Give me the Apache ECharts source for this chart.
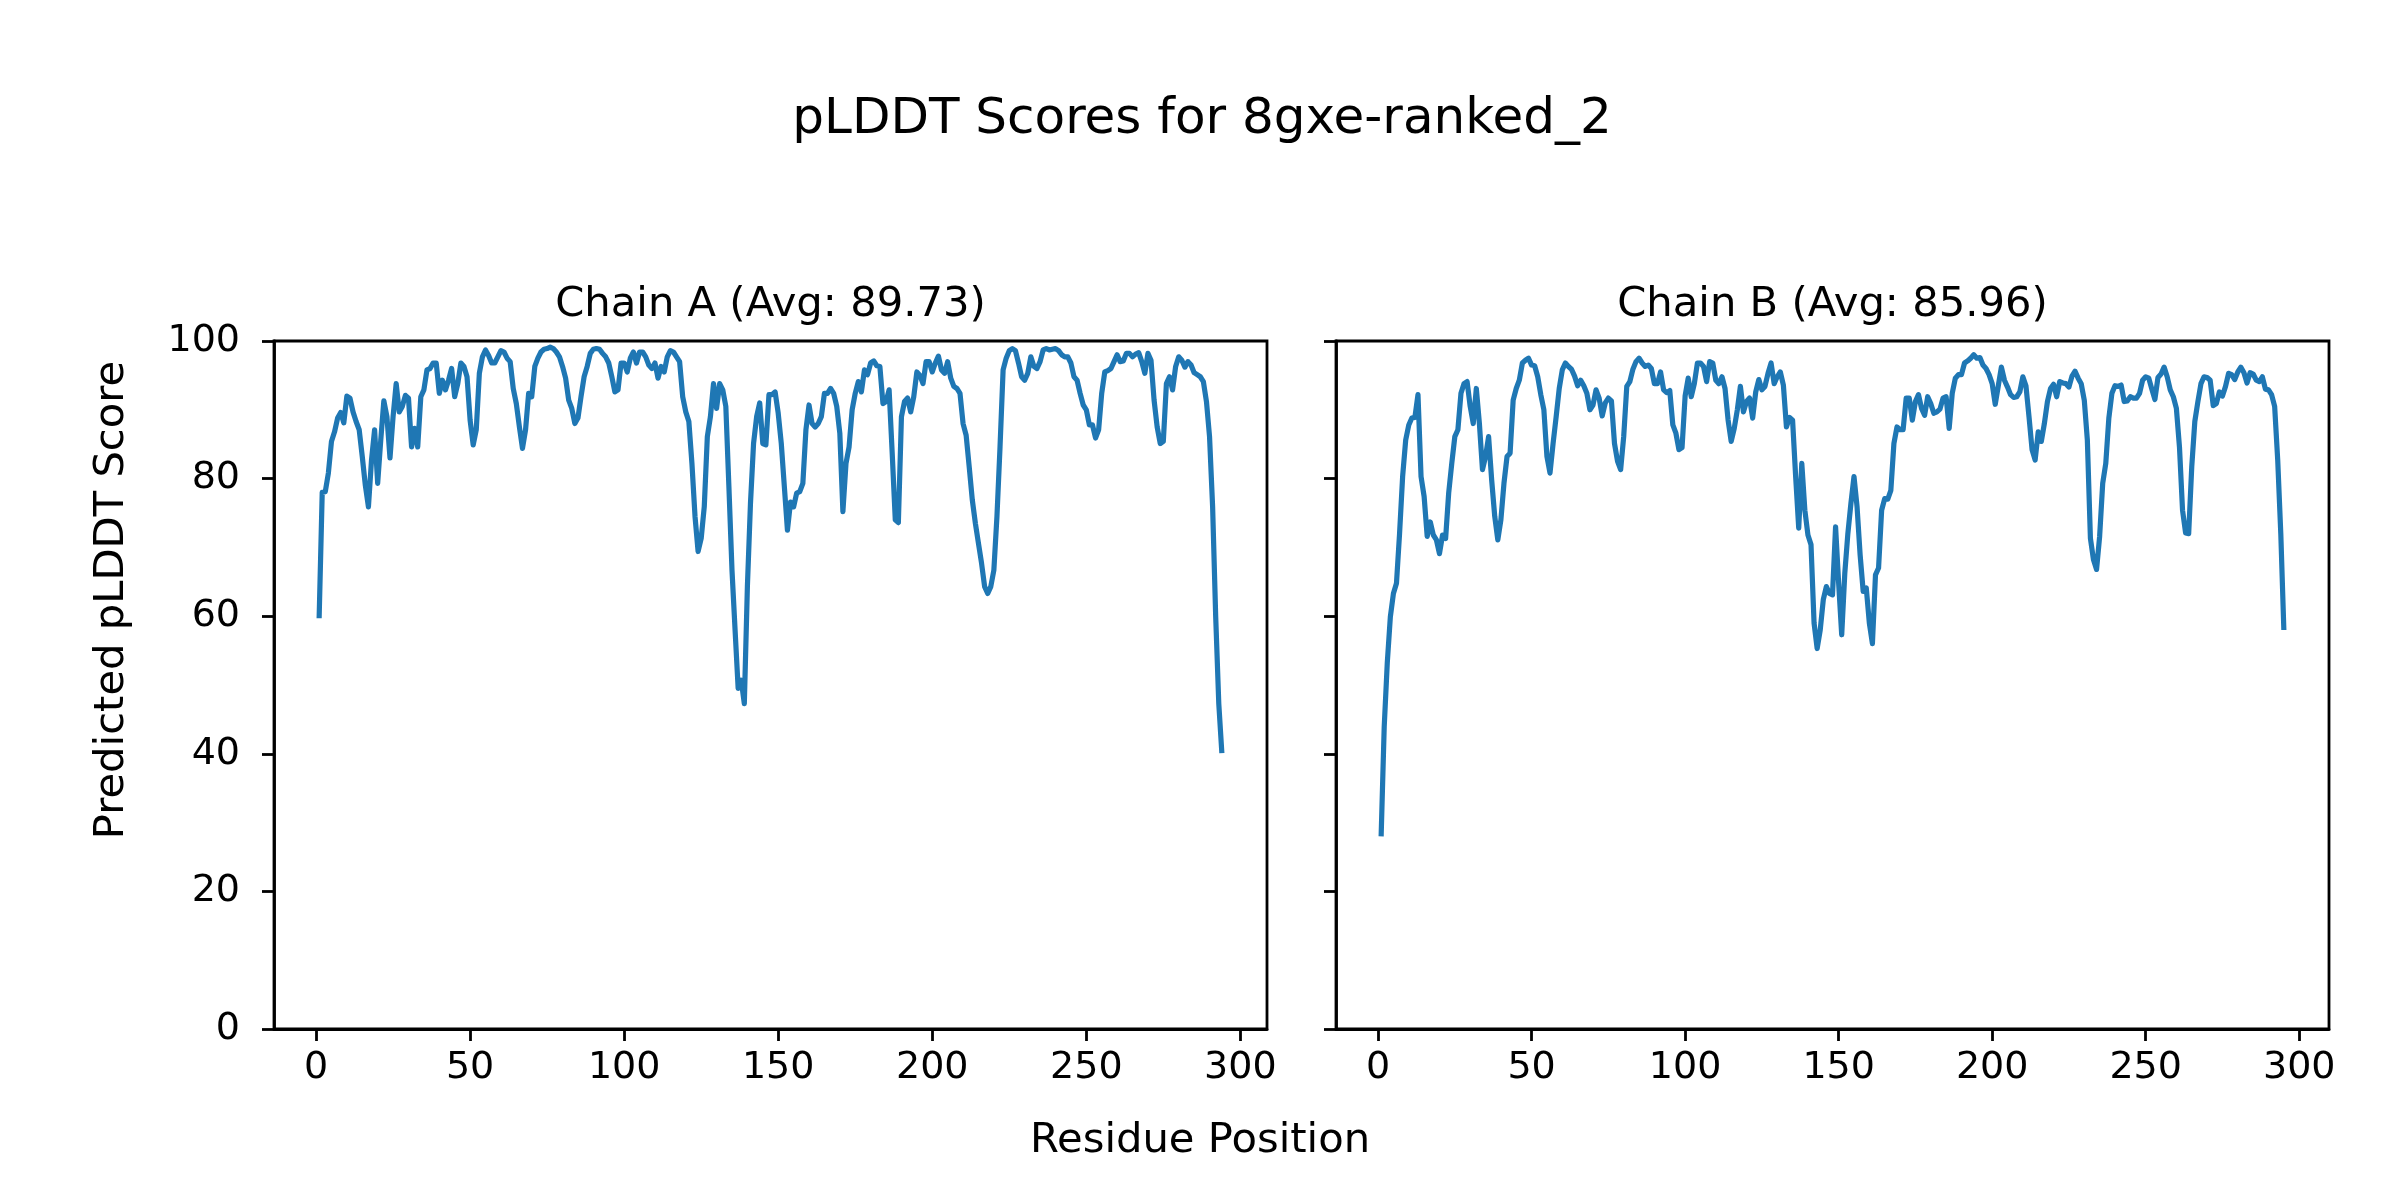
<!DOCTYPE html>
<html><head><meta charset="utf-8">
<script src="https://cdn.jsdelivr.net/npm/echarts@6/dist/echarts.min.js"></script>
<style>html,body{margin:0;padding:0;background:#fff}#c{width:2400px;height:1200px}</style>
</head><body><div id="c"></div>
<script>
const figTitle = 'pLDDT Scores for 8gxe-ranked_2';
const chainTitles = ['Chain A (Avg: 89.73)', 'Chain B (Avg: 85.96)'];
const xLabel = 'Residue Position';
const yLabel = 'Predicted pLDDT Score';
const xTicks = [0, 50, 100, 150, 200, 250, 300];

const chainA = [
59.7,78.0,78.1,80.8,85.4,86.8,88.8,89.6,88.1,92.0,
91.7,89.7,88.3,87.1,83.2,79.0,75.9,82.7,87.1,79.3,
85.6,91.3,89.0,83.0,89.0,93.8,89.7,90.5,92.1,91.7,
84.6,87.3,84.6,91.9,92.9,95.8,96.0,96.8,96.8,92.4,
94.3,92.9,94.3,96.0,91.9,93.8,96.8,96.3,94.8,88.5,
84.9,87.1,95.3,97.7,98.7,97.9,96.8,96.8,97.7,98.6,
98.4,97.5,97.0,93.1,90.9,87.5,84.4,87.1,92.4,91.9,
96.3,97.5,98.4,98.8,98.9,99.1,98.9,98.4,97.7,96.3,
94.6,91.4,90.2,88.0,88.8,91.9,94.8,96.3,98.2,98.8,
98.9,98.8,98.2,97.7,96.8,94.8,92.6,92.9,96.8,96.8,
95.5,97.5,98.4,96.8,98.4,98.4,97.7,96.5,96.0,96.8,
94.6,96.3,95.5,97.7,98.6,98.4,97.7,97.0,91.9,89.7,
88.3,82.2,74.5,69.4,71.3,75.9,86.1,89.0,93.8,90.2,
93.8,92.9,90.5,78.8,66.7,58.0,49.5,50.7,47.3,64.3,
76.4,85.1,89.0,91.0,85.1,84.9,92.2,92.2,92.6,89.5,
85.1,78.8,72.5,76.6,75.9,77.9,78.1,79.3,87.1,90.7,
88.0,87.5,88.0,89.0,92.4,92.4,93.1,92.4,90.5,86.6,
75.2,82.2,84.6,90.0,92.4,94.1,92.6,95.8,95.1,96.8,
97.1,96.4,96.3,90.9,91.2,92.9,83.7,74.0,73.6,89.0,
91.2,91.7,89.7,91.9,95.5,95.0,93.8,97.0,97.0,95.5,
96.8,97.8,95.8,95.3,97.0,94.6,93.4,93.1,92.4,88.0,
86.3,81.7,76.9,73.5,70.6,67.7,64.3,63.3,64.3,66.7,
74.5,84.6,95.8,97.5,98.6,98.9,98.6,96.8,94.8,94.3,
95.3,97.7,96.3,96.0,97.0,98.7,98.9,98.7,98.8,98.9,
98.6,98.0,97.7,97.7,96.8,94.8,94.3,92.4,90.7,90.0,
87.8,87.8,85.9,87.1,92.4,95.5,95.7,96.0,97.0,98.0,
97.0,97.1,98.2,98.2,97.7,98.1,98.3,97.0,95.3,98.2,
97.2,91.4,87.5,85.1,85.4,93.8,94.8,92.9,96.3,97.7,
97.2,96.2,97.0,96.5,95.4,95.1,94.8,94.1,91.2,86.1,
75.9,59.9,47.3,40.1
];

const chainB = [
28.0,43.9,53.2,59.9,63.3,64.8,72.0,80.3,85.6,87.8,
88.8,88.9,92.2,80.3,77.4,71.6,73.7,71.8,71.1,69.1,
71.8,71.3,77.9,82.2,86.1,87.1,92.4,93.8,94.1,90.5,
88.0,93.1,88.0,81.3,83.2,86.1,79.8,74.5,71.1,74.0,
79.3,83.2,83.7,91.4,93.1,94.3,96.8,97.2,97.5,96.5,
96.4,94.8,92.2,90.0,83.2,80.8,85.1,89.0,93.1,95.8,
96.8,96.3,95.9,94.9,93.5,94.3,93.5,92.4,90.0,90.7,
92.9,91.7,89.1,91.0,91.7,91.3,85.1,82.5,81.3,86.1,
93.4,94.1,95.9,97.0,97.5,96.8,96.3,96.5,96.0,93.8,
93.8,95.5,92.9,92.5,92.8,87.8,86.6,84.2,84.5,92.0,
94.6,91.9,93.8,96.8,96.8,96.3,94.1,97.0,96.8,94.3,
93.8,94.8,93.1,88.5,85.4,87.3,90.0,93.4,89.7,91.2,
91.7,88.8,92.6,94.4,92.9,93.4,95.3,96.8,93.8,94.8,
95.5,93.6,87.5,88.9,88.5,80.3,72.8,82.2,75.4,71.8,
70.4,59.0,55.3,58.0,62.4,64.3,63.3,63.1,73.0,64.8,
57.3,66.2,72.0,76.4,80.3,75.9,68.9,63.6,64.1,59.0,
56.0,66.0,67.0,75.4,77.1,77.0,78.3,85.1,87.5,87.1,
87.1,91.7,91.7,88.5,91.2,92.2,90.2,89.2,91.9,90.9,
89.5,89.7,90.1,91.7,91.9,87.3,92.4,94.6,95.1,95.1,
96.8,97.1,97.5,98.0,97.5,97.6,96.5,96.0,95.1,93.8,
90.8,93.5,96.2,94.3,93.3,92.2,91.8,91.9,92.6,94.8,
93.5,89.0,84.2,82.7,86.8,85.4,88.0,91.2,93.1,93.7,
91.9,94.1,93.9,93.8,93.3,94.9,95.6,94.6,93.8,91.4,
85.6,71.3,68.2,66.8,71.6,79.3,82.2,88.8,92.4,93.5,
93.4,93.6,91.2,91.3,91.9,91.7,91.7,92.4,94.3,94.8,
94.6,93.0,91.5,94.7,95.2,96.2,94.8,92.9,91.9,90.2,
84.6,75.4,72.1,72.0,81.7,88.3,91.2,93.8,94.8,94.7,
94.3,90.6,90.9,92.6,92.0,93.4,95.3,95.1,94.4,95.5,
96.2,95.4,93.9,95.4,95.2,94.3,94.1,94.8,93.0,92.9,
92.2,90.5,82.7,72.0,58.0
];

const FONT = 'DejaVu Sans';
function pad(n){ const r = n - 1; return [1 - 0.05 * r, n + 0.05 * r]; }
const rA = pad(chainA.length), rB = pad(chainB.length);

function xAx(idx, range){
  return {
    type: 'value', gridIndex: idx, min: range[0], max: range[1],
    axisLine: {show: true, onZero: false, lineStyle: {color: '#000', width: 2.8}},
    axisTick: {show: true, customValues: xTicks, length: 12, lineStyle: {color: '#000', width: 2.8}},
    axisLabel: {show: true, customValues: xTicks, color: '#000', fontSize: 38, fontFamily: FONT, margin: 20},
    splitLine: {show: false}
  };
}
function yAx(idx, showLabel){
  return {
    type: 'value', gridIndex: idx, min: 0, max: 100, interval: 20,
    axisLine: {show: true, onZero: false, lineStyle: {color: '#000', width: 2.8}},
    axisTick: {show: true, length: 12, lineStyle: {color: '#000', width: 2.8}},
    axisLabel: {show: showLabel, color: '#000', fontSize: 38, fontFamily: FONT, margin: 34},
    splitLine: {show: false}
  };
}
const lineStyle = {color: '#1f77b4', width: 5.2, join: 'round', cap: 'butt'};

const chart = echarts.init(document.getElementById('c'), null, {renderer: 'canvas', width: 2400, height: 1200});
chart.setOption({
  animation: false,
  backgroundColor: '#fff',
  grid: [
    {left: 274, top: 341, width: 993, height: 688, show: true, borderColor: '#000', borderWidth: 2.8, backgroundColor: 'transparent'},
    {left: 1336, top: 341, width: 993, height: 688, show: true, borderColor: '#000', borderWidth: 2.8, backgroundColor: 'transparent'}
  ],
  xAxis: [xAx(0, rA), xAx(1, rB)],
  yAxis: [yAx(0, true), yAx(1, false)],
  series: [
    {type: 'line', xAxisIndex: 0, yAxisIndex: 0, showSymbol: false, symbol: 'none', lineStyle: lineStyle,
     data: chainA.map((v, i) => [i + 1, v])},
    {type: 'line', xAxisIndex: 1, yAxisIndex: 1, showSymbol: false, symbol: 'none', lineStyle: lineStyle,
     data: chainB.map((v, i) => [i + 1, v])}
  ],
  graphic: [
    {type: 'text', x: 1202, y: 120, style: {text: figTitle, font: '50px "DejaVu Sans"', fill: '#000', align: 'center', verticalAlign: 'middle'}},
    {type: 'text', x: 274 + 993 / 2, y: 305, style: {text: chainTitles[0], font: '41.7px "DejaVu Sans"', fill: '#000', align: 'center', verticalAlign: 'middle'}},
    {type: 'text', x: 1336 + 993 / 2, y: 305, style: {text: chainTitles[1], font: '41.7px "DejaVu Sans"', fill: '#000', align: 'center', verticalAlign: 'middle'}},
    {type: 'text', x: 1200, y: 1141, style: {text: xLabel, font: '41.7px "DejaVu Sans"', fill: '#000', align: 'center', verticalAlign: 'middle'}},
    {type: 'text', x: 112, y: 600, rotation: Math.PI / 2, style: {text: yLabel, font: '41.7px "DejaVu Sans"', fill: '#000', align: 'center', verticalAlign: 'middle'}}
  ]
});
</script></body></html>
